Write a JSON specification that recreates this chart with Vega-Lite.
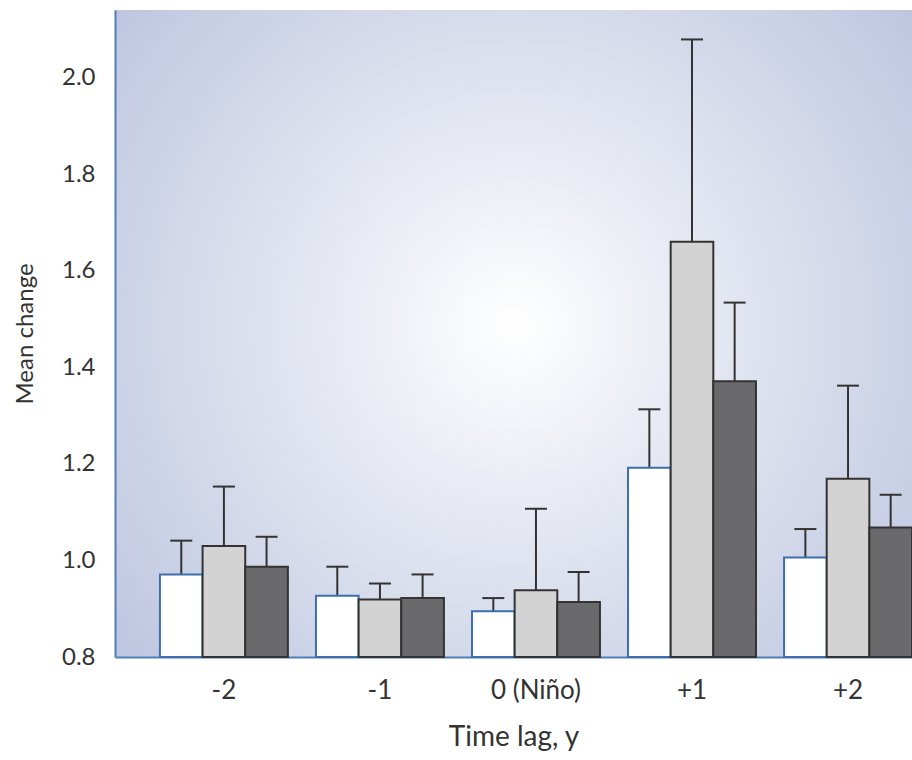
{
  "$schema": "https://vega.github.io/schema/vega-lite/v6.json",
  "width": 797,
  "height": 647,
  "autosize": {"type": "none"},
  "padding": {"left": 115, "top": 10, "right": 0, "bottom": 103},
  "background": "#ffffff",
  "config": {
    "view": {
      "stroke": null,
      "fill": {
        "gradient": "radial",
        "x1": 0.5, "y1": 0.49, "r1": 0,
        "x2": 0.5, "y2": 0.49, "r2": 0.72,
        "stops": [
          {"offset": 0, "color": "#ffffff"},
          {"offset": 0.3, "color": "#e8ebf4"},
          {"offset": 1, "color": "#b6bfdc"}
        ]
      }
    },
    "font": "Lato",
    "axis": {"labelFont": "Lato", "titleFont": "Lato", "labelColor": "#333333", "titleColor": "#333333", "titleFontWeight": "normal"}
  },
  "data": {
    "values": [
      {"lag": "-2", "series": "s1", "value": 0.971, "upper": 1.041},
      {"lag": "-2", "series": "s2", "value": 1.030, "upper": 1.153},
      {"lag": "-2", "series": "s3", "value": 0.987, "upper": 1.049},
      {"lag": "-1", "series": "s1", "value": 0.927, "upper": 0.987},
      {"lag": "-1", "series": "s2", "value": 0.919, "upper": 0.952},
      {"lag": "-1", "series": "s3", "value": 0.922, "upper": 0.971},
      {"lag": "0 (Niño)", "series": "s1", "value": 0.895, "upper": 0.922},
      {"lag": "0 (Niño)", "series": "s2", "value": 0.938, "upper": 1.107},
      {"lag": "0 (Niño)", "series": "s3", "value": 0.914, "upper": 0.976},
      {"lag": "+1", "series": "s1", "value": 1.192, "upper": 1.313},
      {"lag": "+1", "series": "s2", "value": 1.660, "upper": 2.079},
      {"lag": "+1", "series": "s3", "value": 1.371, "upper": 1.534},
      {"lag": "+2", "series": "s1", "value": 1.006, "upper": 1.065},
      {"lag": "+2", "series": "s2", "value": 1.169, "upper": 1.362},
      {"lag": "+2", "series": "s3", "value": 1.068, "upper": 1.136}
    ]
  },
  "encoding": {
    "x": {
      "field": "lag", "type": "nominal",
      "sort": ["-2", "-1", "0 (Niño)", "+1", "+2"],
      "scale": {"paddingInner": 0.18, "paddingOuter": 0.144, "align": 1},
      "axis": {
        "title": "Time lag, y",
        "labelAngle": 0,
        "labelFontSize": 26,
        "titleFontSize": 28,
        "ticks": false,
        "labelPadding": 20,
        "titlePadding": 20,
        "domainColor": "#4f7fba",
        "domainWidth": 2
      }
    },
    "xOffset": {
      "field": "series", "type": "nominal",
      "scale": {"paddingInner": 0, "paddingOuter": 0}
    }
  },
  "layer": [
    {
      "mark": {"type": "rule", "strokeWidth": 2, "color": "#333333"},
      "encoding": {
        "y": {"field": "value", "type": "quantitative"},
        "y2": {"field": "upper"}
      }
    },
    {
      "mark": {"type": "tick", "size": 22, "thickness": 2, "color": "#333333", "opacity": 1},
      "encoding": {
        "y": {"field": "upper", "type": "quantitative"}
      }
    },
    {
      "mark": {"type": "bar", "strokeWidth": 2, "opacity": 1},
      "encoding": {
        "y": {
          "field": "value", "type": "quantitative",
          "scale": {"domain": [0.8, 2.14], "nice": false, "zero": false},
          "axis": {
            "title": "Mean change",
            "values": [0.8, 1.0, 1.2, 1.4, 1.6, 1.8, 2.0],
            "format": ".1f",
            "grid": false,
            "ticks": false,
            "labelFontSize": 24,
            "titleFontSize": 24,
            "labelPadding": 20,
            "titlePadding": 24,
            "domainColor": "#4f7fba",
            "domainWidth": 2
          }
        },
        "y2": {"datum": 0.8},
        "fill": {
          "field": "series", "type": "nominal",
          "scale": {"domain": ["s1", "s2", "s3"], "range": ["#ffffff", "#d3d3d4", "#6a6a6d"]},
          "legend": null
        },
        "stroke": {
          "field": "series", "type": "nominal",
          "scale": {"domain": ["s1", "s2", "s3"], "range": ["#3d6faa", "#333333", "#333333"]},
          "legend": null
        }
      }
    }
  ]
}
